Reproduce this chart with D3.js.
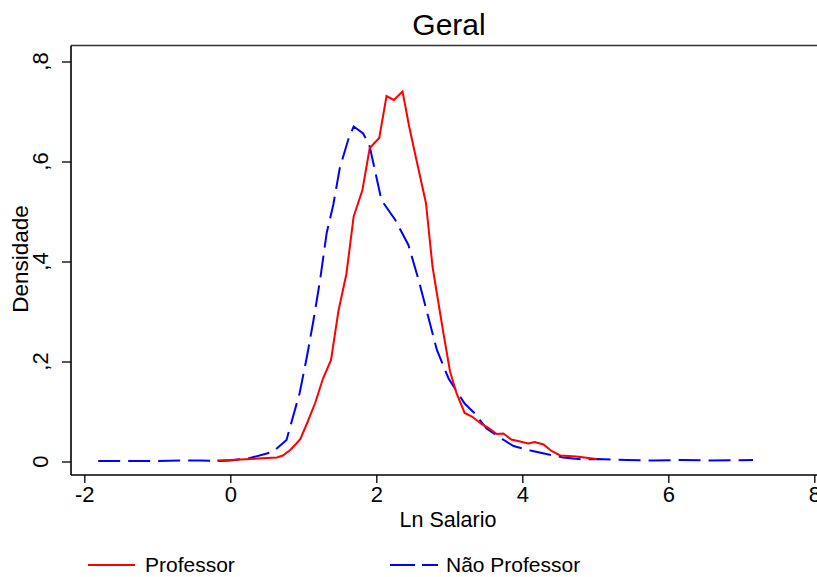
<!DOCTYPE html>
<html>
<head>
<meta charset="utf-8">
<script src="https://cdn.jsdelivr.net/npm/d3@7"></script>
<style>
  body { margin: 0; background: #fff; }
  text { font-family: "Liberation Sans", Arial, sans-serif; fill: #000; }
</style>
</head>
<body>
<div id="chart"></div>
<script>
// densidade do ln do salario
var professorX = [-0.18, 0.0, 0.27, 0.5, 0.64, 0.72, 0.82, 0.9, 0.96, 1.05, 1.16, 1.27, 1.38, 1.48, 1.59,
    1.69, 1.81, 1.91, 2.04, 2.14, 2.24, 2.36, 2.45, 2.55, 2.68, 2.77, 2.83, 2.92, 3.01, 3.10, 3.21, 3.31,
    3.44, 3.53, 3.65, 3.74, 3.85, 3.97, 4.08, 4.17, 4.29, 4.40, 4.52, 4.74, 5.02];
var professorY = [0.002, 0.003, 0.005, 0.007, 0.008, 0.012, 0.023, 0.035, 0.045, 0.076, 0.116, 0.166, 0.203, 0.30, 0.375,
    0.49, 0.543, 0.627, 0.647, 0.731, 0.723, 0.74, 0.67, 0.603, 0.517, 0.39, 0.336, 0.256, 0.18, 0.136, 0.097, 0.09,
    0.075, 0.068, 0.055, 0.056, 0.044, 0.04, 0.036, 0.039, 0.034, 0.021, 0.012, 0.01, 0.005];

var naoProfX = [-1.81, -1.0, -0.6, -0.41, -0.2, 0.0, 0.27, 0.5, 0.59, 0.77, 0.95, 1.05, 1.14, 1.23, 1.32, 1.41,
    1.50, 1.62, 1.69, 1.82, 1.91, 2.07, 2.26, 2.44, 2.58, 2.71, 2.83, 2.99, 3.12, 3.21, 3.35, 3.51, 3.69,
    3.88, 4.11, 4.33, 4.56, 4.84, 5.02, 5.43, 5.79, 6.2, 6.53, 7.16];
var naoProfY = [0.001, 0.001, 0.002, 0.002, 0.001, 0.002, 0.007, 0.016, 0.02, 0.043, 0.137, 0.21, 0.283, 0.363, 0.457, 0.513,
    0.587, 0.646, 0.67, 0.656, 0.63, 0.523, 0.483, 0.433, 0.363, 0.29, 0.223, 0.166, 0.136, 0.116, 0.096, 0.066, 0.048,
    0.031, 0.022, 0.015, 0.008, 0.004, 0.005, 0.003, 0.002, 0.003, 0.002, 0.003];

var xTicks = [-2, 0, 2, 4, 6, 8];
var yTicks = [0, 0.2, 0.4, 0.6, 0.8];
var yTickLabels = ["0", ",2", ",4", ",6", ",8"];

var width = 817, height = 577;
var plotLeft = 71, plotTop = 45.5, plotBottom = 475;

var svg = d3.select("#chart").append("svg")
    .attr("width", width)
    .attr("height", height);

var x = d3.scaleLinear().domain([-2, 8]).range([84.3, 814.3]);
var y = d3.scaleLinear().domain([0, 0.8]).range([461.5, 61.5]);

// moldura (so o topo aparece alem dos eixos)
svg.append("line")
    .attr("x1", plotLeft).attr("x2", width + 10)
    .attr("y1", plotTop).attr("y2", plotTop)
    .attr("stroke", "#333").attr("stroke-width", 1.6);

// eixo x
var xAxis = svg.append("g")
    .attr("transform", "translate(0," + plotBottom + ")")
    .call(d3.axisBottom(x).tickValues(xTicks).tickSize(8).tickPadding(3).tickFormat(d3.format("d")));
xAxis.select(".domain").remove();
xAxis.append("line").attr("x1", plotLeft).attr("x2", width + 10).attr("stroke", "#000").attr("stroke-width", 1.6);
xAxis.selectAll(".tick line").attr("stroke", "#000").attr("stroke-width", 1.3);
xAxis.selectAll(".tick text").attr("font-size", 22).attr("fill", "#000")
    .style("font-family", "'Liberation Sans', Arial, sans-serif")
    .text(function(d) { return d < 0 ? "-" + Math.abs(d) : d; });

// eixo y
var yAxis = svg.append("g")
    .attr("transform", "translate(" + plotLeft + ",0)")
    .call(d3.axisLeft(y).tickValues(yTicks).tickSize(9).tickFormat(""));
yAxis.select(".domain").remove();
yAxis.append("line").attr("y1", plotTop).attr("y2", plotBottom).attr("stroke", "#000").attr("stroke-width", 1.6);
yAxis.selectAll(".tick line").attr("stroke", "#000").attr("stroke-width", 1.3);

svg.append("g").selectAll("text")
    .data(yTicks)
    .join("text")
    .attr("transform", function(d) { return "translate(48," + y(d) + ") rotate(-90)"; })
    .attr("text-anchor", "middle")
    .attr("font-size", 22)
    .text(function(d, i) { return yTickLabels[i]; });

// titulos
svg.append("text")
    .attr("x", 449).attr("y", 35)
    .attr("text-anchor", "middle")
    .attr("font-size", 30)
    .text("Geral");

svg.append("text")
    .attr("x", 448).attr("y", 526.5)
    .attr("text-anchor", "middle")
    .attr("font-size", 21.5)
    .text("Ln Salario");

svg.append("text")
    .attr("transform", "translate(28,259) rotate(-90)")
    .attr("text-anchor", "middle")
    .attr("font-size", 22.5)
    .text("Densidade");

// curvas
var line = d3.line()
    .x(function(d) { return x(d[0]); })
    .y(function(d) { return y(d[1]); });

var naoProf = naoProfX.map(function(v, i) { return [v, naoProfY[i]]; });
var professor = professorX.map(function(v, i) { return [v, professorY[i]]; });

svg.append("path")
    .datum(naoProf)
    .attr("d", line)
    .attr("fill", "none")
    .attr("stroke", "#0000ff")
    .attr("stroke-width", 2)
    .attr("stroke-dasharray", "22,8");

svg.append("path")
    .datum(professor)
    .attr("d", line)
    .attr("fill", "none")
    .attr("stroke", "#ff0000")
    .attr("stroke-width", 2);

// legenda
var legendY = 565;
svg.append("line")
    .attr("x1", 88).attr("x2", 135).attr("y1", legendY).attr("y2", legendY)
    .attr("stroke", "#ff0000").attr("stroke-width", 2);
svg.append("text")
    .attr("x", 145).attr("y", 572)
    .attr("font-size", 21)
    .text("Professor");

svg.append("line")
    .attr("x1", 390).attr("x2", 438).attr("y1", legendY).attr("y2", legendY)
    .attr("stroke", "#0000ff").attr("stroke-width", 2)
    .attr("stroke-dasharray", "25,7");
svg.append("text")
    .attr("x", 446).attr("y", 572)
    .attr("font-size", 21)
    .text("Não Professor");
</script>
</body>
</html>
